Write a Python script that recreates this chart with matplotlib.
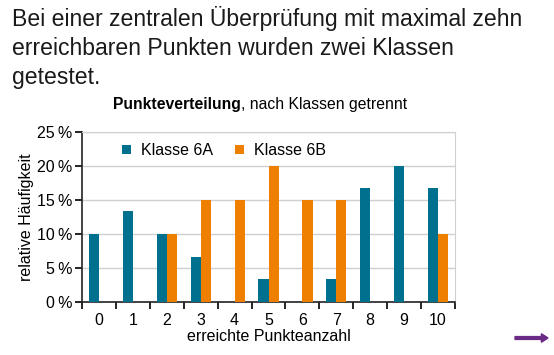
import matplotlib.pyplot as plt
import numpy as np

plt.rcParams['font.family'] = ['Liberation Sans', 'DejaVu Sans']

punkte = [0, 1, 2, 3, 4, 5, 6, 7, 8, 9, 10]
klasse_6a = [10, 13.33, 10, 6.5, 0, 3.33, 0, 3.33, 16.67, 20, 16.67]
klasse_6b = [0, 0, 10, 15, 15, 20, 15, 15, 0, 0, 10]
y_ticks = [0, 5, 10, 15, 20, 25]

blau = '#00708f'
orange = '#ee7f00'

fig = plt.figure(figsize=(5.54, 3.55), dpi=100)
ax = fig.add_axes([82 / 554, 1 - 301.5 / 355, 373 / 554, 169.5 / 355])

x = np.arange(len(punkte))
w = 0.3
ax.bar(x - w / 2, klasse_6a, w, color=blau, label='Klasse 6A', zorder=3)
ax.bar(x + w / 2, klasse_6b, w, color=orange, label='Klasse 6B', zorder=3)

ax.set_xlim(-0.5, len(punkte) - 0.5)
ax.set_ylim(0, 25)
ax.set_yticks(y_ticks)
ax.set_yticklabels([f'{v}\u2009%' for v in y_ticks], fontsize=11.5)
ax.yaxis.grid(True, color='#d0d0d0', lw=1, zorder=0)

# Striche zwischen den Kategorien, Zahlen mittig
ax.set_xticks(np.arange(-0.5, len(punkte)), minor=False)
ax.set_xticklabels([])
ax.set_xticks(x, minor=True)
ax.set_xticklabels([str(p) for p in punkte], minor=True, fontsize=11.5)
ax.tick_params(axis='x', which='minor', length=0, pad=8)
ax.tick_params(axis='x', which='major', length=5, width=1.2, direction='out')
ax.tick_params(axis='y', length=5, width=1.2, direction='out', pad=2)

for s in ['top', 'right']:
    ax.spines[s].set_color('#d0d0d0')
for s in ['left', 'bottom']:
    ax.spines[s].set_color('#222222')
    ax.spines[s].set_linewidth(1.2)

ax.set_xlabel('erreichte Punkteanzahl', fontsize=11.5, labelpad=1)
ax.set_ylabel('relative Häufigkeit', fontsize=11.5, labelpad=2)

leg = ax.legend(loc='upper left', bbox_to_anchor=(0.07, 1.02), ncol=2, frameon=False,
                fontsize=11.5, handlelength=0.55, handleheight=0.55, columnspacing=1.4,
                handletextpad=0.6)

fig.text(12 / 554, 1 - 6 / 355,
         'Bei einer zentralen Überprüfung mit maximal zehn\nerreichbaren Punkten wurden zwei Klassen\ngetestet.',
         fontsize=16.6, va='top', ha='left', linespacing=1.33, color='#1a1a1a')

t1 = fig.text(113 / 554, 1 - 104 / 355, 'Punkteverteilung', fontsize=11.3,
              fontweight='bold', va='center', ha='left')
fig.canvas.draw()
bb = t1.get_window_extent()
fig.text(bb.x1 / 554, 1 - 104 / 355, ', nach Klassen getrennt', fontsize=11.3,
         va='center', ha='left')

fig.patches.append(plt.Arrow(515 / 554, 1 - 338 / 355, 33 / 554, 0, width=0.04,
                             color='#6b2a85', transform=fig.transFigure))

fig.savefig('out.png', dpi=100)
